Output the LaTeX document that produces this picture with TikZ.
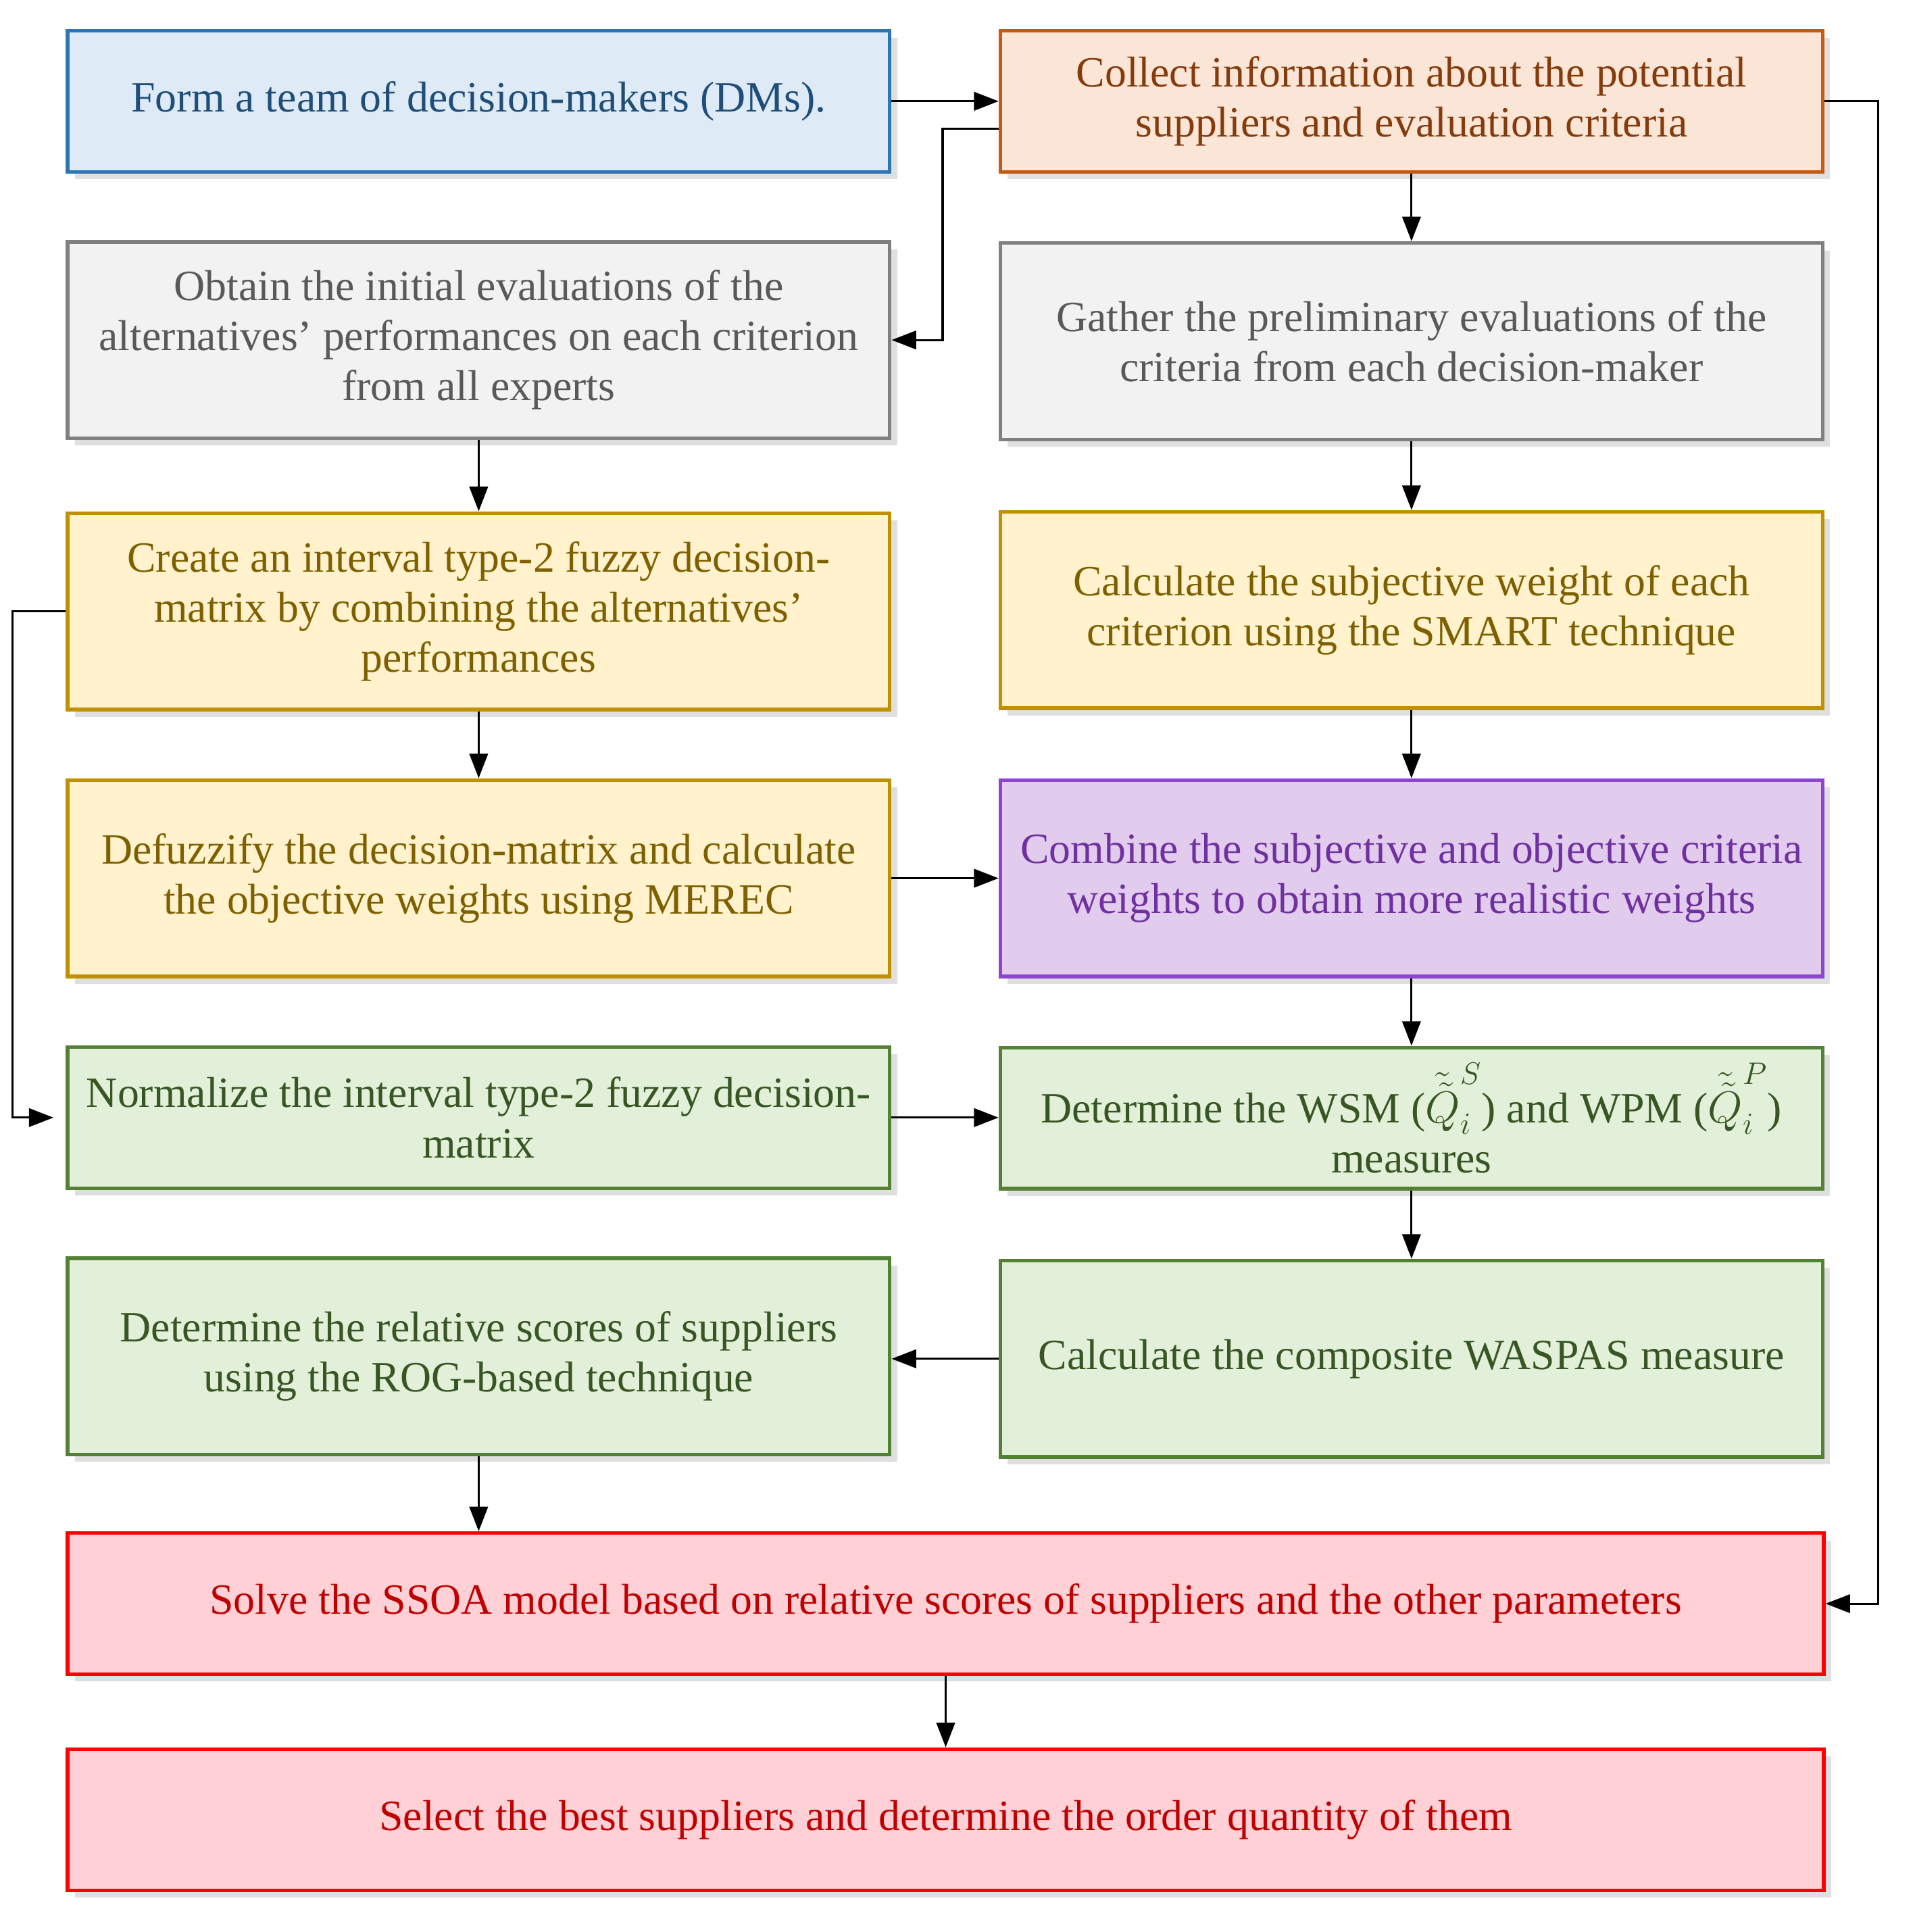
\documentclass[tikz,border=0pt]{standalone}
\usepackage{fontspec}
\setmainfont{Liberation Serif}
\usetikzlibrary{shadows,arrows.meta}
\definecolor{bF}{HTML}{DEEAF6}\definecolor{bD}{HTML}{2E75B6}\definecolor{bT}{HTML}{1F4E79}
\definecolor{oF}{HTML}{FBE5D6}\definecolor{oD}{HTML}{C55A11}\definecolor{oT}{HTML}{843C0C}
\definecolor{gF}{HTML}{F2F2F2}\definecolor{gD}{HTML}{808080}\definecolor{gT}{HTML}{595959}
\definecolor{yF}{HTML}{FFF2CC}\definecolor{yD}{HTML}{BF9000}\definecolor{yT}{HTML}{7F6000}
\definecolor{pF}{HTML}{E2CCEE}\definecolor{pD}{HTML}{8E44CC}\definecolor{pT}{HTML}{7030A0}
\definecolor{nF}{HTML}{E2F0D9}\definecolor{nD}{HTML}{548235}\definecolor{nT}{HTML}{375623}
\definecolor{rF}{HTML}{FFD0D5}\definecolor{rD}{HTML}{FF0000}\definecolor{rT}{HTML}{C00000}
\tikzset{
 box/.style={draw, line width=1.7pt, align=center, font=\fontsize{20}{23.2}\selectfont,
   minimum width=13.4cm, inner sep=0pt, drop shadow={opacity=0.25,shadow xshift=0.12cm,shadow yshift=-0.12cm}},
 wide/.style={minimum width=28.62cm},
 h1/.style={minimum height=2.3cm}, h2/.style={minimum height=3.2cm},
 blue/.style={fill=bF,draw=bD,text=bT}, orange/.style={fill=oF,draw=oD,text=oT},
 gray/.style={fill=gF,draw=gD,text=gT}, yel/.style={fill=yF,draw=yD,text=yT},
 pur/.style={fill=pF,draw=pD,text=pT}, grn/.style={fill=nF,draw=nD,text=nT},
 red/.style={fill=rF,draw=rD,text=rT},
 arr/.style={-{Triangle[length=0.4cm,width=0.3cm]}, line width=1pt, black}
}
\begin{document}
\begin{tikzpicture}[x=0.02cm,y=-0.02cm]
\useasboundingbox (0,0) rectangle (1560,1574);
\node[box,h1,blue] (a1) at (390,82.5) {Form a team of decision-makers (DMs).};
\node[box,h1,orange] (b1) at (1150,82.5) {Collect information about the potential\\suppliers and evaluation criteria};
\node[box,h2,gray] (a2) at (390,277) {Obtain the initial evaluations of the\\alternatives’ performances on each criterion\\from all experts};
\node[box,h2,gray] (b2) at (1150,278) {Gather the preliminary evaluations of the\\criteria from each decision-maker};
\node[box,h2,yel] (a3) at (390,498) {Create an interval type-2 fuzzy decision-\\matrix by combining the alternatives'\\performances};
\node[box,h2,yel] (b3) at (1150,497) {Calculate the subjective weight of each\\criterion using the SMART technique};
\node[box,h2,yel] (a4) at (390,715.5) {Defuzzify the decision-matrix and calculate\\the objective weights using MEREC};
\node[box,h2,pur] (b4) at (1150,715.5) {Combine the subjective and objective criteria\\weights to obtain more realistic weights};
\node[box,h1,grn] (a5) at (390,910.5) {Normalize the interval type-2 fuzzy decision-\\matrix};
\node[box,h1,grn] (b5) at (1150,911) {Determine the WSM ($\tilde{\tilde{Q}}_i^{S}$) and WPM ($\tilde{\tilde{Q}}_i^{P}$)\\measures};
\node[box,h2,grn] (a6) at (390,1105) {Determine the relative scores of suppliers\\using the ROG-based technique};
\node[box,h2,grn] (b6) at (1150,1107) {Calculate the composite WASPAS measure};
\node[box,h1,wide,red] (c1) at (770.5,1306.5) {Solve the SSOA model based on relative scores of suppliers and the other parameters};
\node[box,h1,wide,red] (c2) at (770.5,1482.5) {Select the best suppliers and determine the order quantity of them};
\draw[arr] (a1.east) -- (b1.west|-a1.east);
\draw[arr] (b1.west|-0,105) -- (768,105) |- (a2.east);
\draw[arr] (b1.east) -- (1530,82.5) |- (c1.east);
\draw[arr] (b1) -- (b2); \draw[arr] (b2) -- (b3); \draw[arr] (b3) -- (b4);
\draw[arr] (b4) -- (b5); \draw[arr] (b5) -- (b6);
\draw[arr] (a2) -- (a3); \draw[arr] (a3) -- (a4);
\draw[arr] (a3.west) -- (10,498) |- ([xshift=-0.2cm]a5.west);
\draw[arr] (a4) -- (b4.west|-a4);
\draw[arr] (a5) -- (b5.west|-a5);
\draw[arr] (b6) -- (a6.east|-b6);
\draw[arr] (a6.south) -- (a6.south|-c1.north);
\draw[arr] (c1) -- (c2);
\end{tikzpicture}
\end{document}
